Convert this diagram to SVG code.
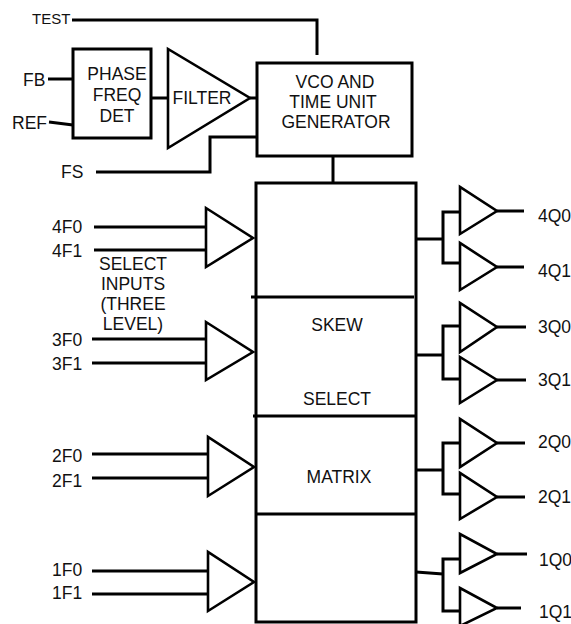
<svg xmlns="http://www.w3.org/2000/svg" width="571" height="624" viewBox="0 0 571 624">
<style>
text{font-family:"Liberation Sans",Arial,sans-serif;font-size:17.5px;fill:#111}
.sm{font-size:15px}
.m{text-anchor:middle}
.w{fill:none;stroke:#000;stroke-width:3}
.t{fill:#fff;stroke:#000;stroke-width:2.6;stroke-linejoin:miter}
</style>
<rect width="571" height="624" fill="#fff"/>
<g id="connectors" class="w">
<polyline points="72,20 317,20 317,55"/>
<line x1="48" y1="79" x2="73" y2="79"/>
<line x1="49" y1="122" x2="73" y2="125"/>
<line x1="151" y1="98" x2="168" y2="98"/>
<line x1="250" y1="98" x2="257" y2="98"/>
<polyline points="96,172 210,172 210,137 257,137"/>
<line x1="333" y1="156" x2="333" y2="183"/>
<line x1="94" y1="227" x2="206" y2="227"/>
<line x1="94" y1="250" x2="206" y2="250"/>
<line x1="92" y1="339" x2="206" y2="339"/>
<line x1="92" y1="363" x2="206" y2="363"/>
<line x1="92" y1="454" x2="208" y2="454"/>
<line x1="92" y1="478" x2="208" y2="478"/>
<line x1="92" y1="571" x2="208" y2="571"/>
<line x1="92" y1="594" x2="208" y2="594"/>
<line x1="416" y1="239" x2="443" y2="239"/>
<polyline points="460,212 443,212 443,263 460,263"/>
<line x1="416" y1="355" x2="443" y2="355"/>
<polyline points="460,326 443,326 443,379 460,379"/>
<line x1="416" y1="470" x2="443" y2="470"/>
<polyline points="460,443 443,443 443,494 460,494"/>
<line x1="416" y1="572" x2="443" y2="574"/>
<polyline points="460,559 443,559 443,611 460,611"/>
<line x1="497" y1="211" x2="524" y2="211"/>
<line x1="497" y1="267" x2="524" y2="267"/>
<line x1="497" y1="327" x2="526" y2="327"/>
<line x1="497" y1="380" x2="526" y2="380"/>
<line x1="497" y1="443" x2="525" y2="443"/>
<line x1="497" y1="497" x2="525" y2="497"/>
<line x1="497" y1="554" x2="527" y2="554"/>
<line x1="497" y1="608" x2="521" y2="608"/>
</g>
<g id="test-label"><text class="sm" x="32" y="24">TEST</text></g>
<g id="fb-label"><text x="23" y="86">FB</text></g>
<g id="ref-label"><text x="12" y="129">REF</text></g>
<g id="fs-label"><text x="61" y="178">FS</text></g>
<g id="phase-freq-det">
<rect class="w" x="73" y="49" width="78" height="89"/>
<text class="m" x="117" y="80">PHASE</text>
<text class="m" x="117" y="101">FREQ</text>
<text class="m" x="117" y="122">DET</text>
</g>
<g id="filter">
<polygon class="t" points="168,49 168,148 250,98"/>
<text class="m" x="202" y="104">FILTER</text>
</g>
<g id="vco">
<rect class="w" x="257" y="63" width="155" height="93"/>
<text class="m" x="335" y="88">VCO AND</text>
<text class="m" x="333" y="108">TIME UNIT</text>
<text class="m" x="336" y="128">GENERATOR</text>
</g>
<g id="skew-select-matrix">
<rect class="w" x="256" y="183" width="160" height="439"/>
<line class="w" x1="251" y1="297" x2="414" y2="297"/>
<line class="w" x1="253" y1="416" x2="416" y2="416"/>
<line class="w" x1="256" y1="514" x2="416" y2="514"/>
<text class="m" x="337" y="331">SKEW</text>
<text class="m" x="337" y="405">SELECT</text>
<text class="m" x="339" y="483">MATRIX</text>
</g>
<g id="select-inputs-label">
<text class="m" x="133" y="270">SELECT</text>
<text class="m" x="133" y="290">INPUTS</text>
<text class="m" x="133" y="310">(THREE</text>
<text class="m" x="133" y="330">LEVEL)</text>
</g>
<g id="in4">
<polygon class="t" points="206,208 206,267 253,238"/>
<text x="52" y="233">4F0</text>
<text x="52" y="257">4F1</text>
</g>
<g id="in3">
<polygon class="t" points="206,322 206,380 253,352"/>
<text x="52" y="346">3F0</text>
<text x="52" y="370">3F1</text>
</g>
<g id="in2">
<polygon class="t" points="208,437 208,496 254,467"/>
<text x="52" y="462">2F0</text>
<text x="52" y="487">2F1</text>
</g>
<g id="in1">
<polygon class="t" points="208,552 208,611 254,582"/>
<text x="52" y="576">1F0</text>
<text x="52" y="599">1F1</text>
</g>
<g id="out4q0"><polygon class="t" points="460,187 460,234 497,211"/><text x="538" y="222">4Q0</text></g>
<g id="out4q1"><polygon class="t" points="460,243 460,290 497,267"/><text x="538" y="277">4Q1</text></g>
<g id="out3q0"><polygon class="t" points="460,303 460,352 497,327"/><text x="538" y="333">3Q0</text></g>
<g id="out3q1"><polygon class="t" points="460,357 460,403 497,380"/><text x="538" y="386">3Q1</text></g>
<g id="out2q0"><polygon class="t" points="460,419 460,467 497,443"/><text x="538" y="448">2Q0</text></g>
<g id="out2q1"><polygon class="t" points="460,473 460,519 497,497"/><text x="538" y="503">2Q1</text></g>
<g id="out1q0"><polygon class="t" points="460,534 460,573 497,554"/><text x="539" y="566">1Q0</text></g>
<g id="out1q1"><polygon class="t" points="460,588 460,626 497,608"/><text x="539" y="618">1Q1</text></g>
</svg>
